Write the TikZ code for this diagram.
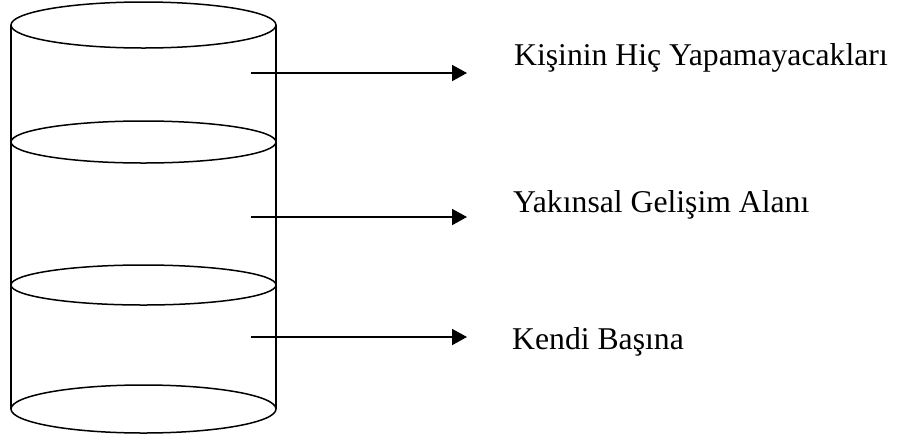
\documentclass[tikz,border=0pt]{standalone}
\usepackage{fontspec}
\setmainfont{Liberation Serif}
\usetikzlibrary{arrows.meta}
\begin{document}
\begin{tikzpicture}[x=1pt,y=-1pt,
  cyl/.style={line width=1.5pt,draw=black},
  arr/.style={line width=2pt,-{Triangle[length=15pt,width=16pt]}},
  lbl/.style={anchor=base west,inner sep=0pt,font=\fontsize{31.7}{36}\selectfont}]
\useasboundingbox (0,0) rectangle (900,440);
% cylinder
\draw[cyl] (11,25) -- (11,409);
\draw[cyl] (276,25) -- (276,409);
\draw[cyl,fill=white] (143.5,25) ellipse [x radius=132.5, y radius=23];
\draw[cyl,fill=white] (143.5,142) ellipse [x radius=132.5, y radius=21];
\draw[cyl,fill=white] (143.5,285) ellipse [x radius=132.5, y radius=20];
\draw[cyl,fill=white] (143.5,409) ellipse [x radius=132.5, y radius=24];
% coordinates
\coordinate (s1) at (251,73);
\coordinate (e1) at (467,73);
\coordinate (s2) at (251,217);
\coordinate (e2) at (467,217);
\coordinate (s3) at (251,337);
\coordinate (e3) at (467,337);
\draw[arr] (s1) -- (e1);
\draw[arr] (s2) -- (e2);
\draw[arr] (s3) -- (e3);
\node[lbl] (t1) at (514,65) {Kişinin Hiç Yapamayacakları};
\node[lbl] (t2) at (513,212) {Yakınsal Gelişim Alanı};
\node[lbl] (t3) at (512,349) {Kendi Başına};
\end{tikzpicture}
\end{document}
